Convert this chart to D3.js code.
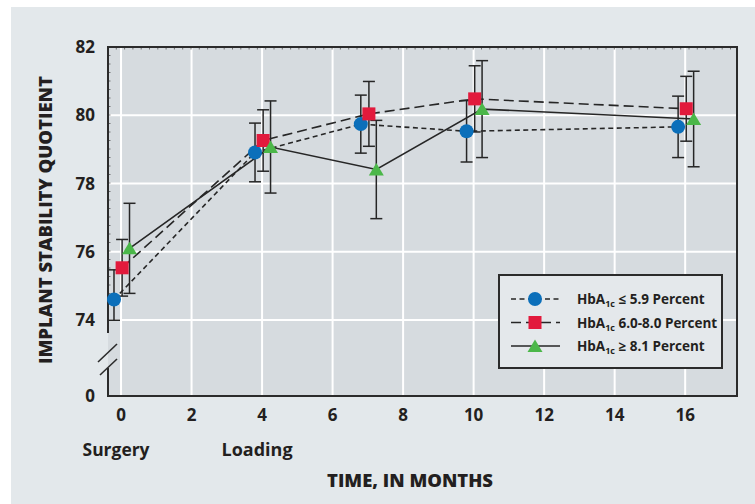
<!DOCTYPE html>
<html>
<head>
<meta charset="utf-8">
<script src="https://cdn.jsdelivr.net/npm/d3@7"></script>
<style>
  body { margin: 0; background: #fff; }
  text { font-family: "Open Sans", "DejaVu Sans", sans-serif; fill: #231f20; }
</style>
</head>
<body>
<svg width="755" height="504"></svg>
<script>
// months after surgery, and the ISQ means / SDs for each HbA1c group
var months = [0, 4, 7, 10, 16];
var xTicks = [0, 2, 4, 6, 8, 10, 12, 14, 16];
var yTicks = [0, 74, 76, 78, 80, 82];
var yGrid = [74, 76, 78, 80];
var milestoneLabels = ["Surgery", "Loading"];
var milestoneMonths = [0, 4];

var groupLabels = ["\u2264 5.9 Percent", "6.0-8.0 Percent", "\u2265 8.1 Percent"];
var lowMean = [74.6, 78.91, 79.74, 79.53, 79.66];
var lowSD = [0.87, 0.86, 0.85, 0.9, 0.9];
var midMean = [75.53, 79.26, 80.04, 80.48, 80.19];
var midSD = [0.83, 0.9, 0.95, 0.97, 0.95];
var highMean = [76.1, 79.07, 78.41, 80.18, 79.89];
var highSD = [1.32, 1.35, 1.44, 1.42, 1.4];

var svg = d3.select("svg"),
    plotLeft = 108, plotTop = 47,
    width = 629, height = 349;

// page panel
svg.append("rect").attr("x", 11).attr("y", 7).attr("width", 744).attr("height", 497).attr("fill", "#e3e8eb");

var g = svg.append("g").attr("transform", "translate(" + plotLeft + "," + plotTop + ")");

var x = d3.scaleLinear().domain([-0.37, 17.47]).range([0, width]);
// broken axis: 0 sits at the bottom, 74..82 is the real range
var y = d3.scaleLinear().domain([0, 74, 82]).range([height, height - 76, 0]);

var series = [
  { mean: lowMean, sd: lowSD, shift: -0.2, color: "#0b6fba", shape: "circle", dash: "5,3.5" },
  { mean: midMean, sd: midSD, shift: 0.03, color: "#e21a3c", shape: "square", dash: "10,5" },
  { mean: highMean, sd: highSD, shift: 0.24, color: "#4bb749", shape: "triangle", dash: null }
];
series.forEach(function(s, i) {
  s.label = groupLabels[i];
  s.points = months.map(function(m, j) { return { month: m, mean: s.mean[j], sd: s.sd[j] }; });
});

g.append("rect").attr("width", width).attr("height", height).attr("fill", "#d6dbdf");

// grid
g.append("g").selectAll("line")
    .data(xTicks)
  .enter().append("line")
    .attr("x1", function(d) { return x(d); })
    .attr("x2", function(d) { return x(d); })
    .attr("y1", 0).attr("y2", height)
    .attr("stroke", "#fff").attr("stroke-width", 2);

g.append("g").selectAll("line")
    .data(yGrid)
  .enter().append("line")
    .attr("x1", 0).attr("x2", width)
    .attr("y1", function(d) { return y(d); })
    .attr("y2", function(d) { return y(d); })
    .attr("stroke", "#fff").attr("stroke-width", 2);

// tiny ruler ticks along the top and left frame
g.append("g").selectAll("line")
    .data(d3.range(0, width, 8.3))
  .enter().append("line")
    .attr("x1", function(d) { return d; }).attr("x2", function(d) { return d; })
    .attr("y1", 0).attr("y2", 2.5)
    .attr("stroke", "#555").attr("stroke-width", 0.8);
g.append("g").selectAll("line")
    .data(d3.range(0, y(74) - 10, 8.5))
  .enter().append("line")
    .attr("x1", 0).attr("x2", 2.5)
    .attr("y1", function(d) { return d; }).attr("y2", function(d) { return d; })
    .attr("stroke", "#555").attr("stroke-width", 0.8);

// frame: top, right, bottom, and the broken left side
var frame = "#2b2b2b";
g.append("path")
  .attr("d", "M0," + (y(74) + 13) + " L0,0 L" + width + ",0 L" + width + "," + height + " L0," + height + " L0," + (height - 28))
  .attr("fill", "none").attr("stroke", frame).attr("stroke-width", 2);

var by = y(74);
g.append("line").attr("x1", -10).attr("y1", by + 42).attr("x2", 9).attr("y2", by + 24)
  .attr("stroke", frame).attr("stroke-width", 1.6);
g.append("line").attr("x1", -8).attr("y1", by + 55).attr("x2", 9).attr("y2", by + 39)
  .attr("stroke", frame).attr("stroke-width", 1.6);

// axis labels
g.append("g").selectAll("text")
    .data(yTicks)
  .enter().append("text")
    .attr("x", -13)
    .attr("y", function(d) { return y(d) + 6; })
    .attr("text-anchor", "end")
    .attr("font-size", "17px").attr("font-weight", 700)
    .text(function(d) { return d; });

g.append("g").selectAll("text")
    .data(xTicks)
  .enter().append("text")
    .attr("x", function(d) { return x(d); })
    .attr("y", height + 25)
    .attr("text-anchor", "middle")
    .attr("font-size", "17px").attr("font-weight", 700)
    .text(function(d) { return d; });

g.append("g").selectAll("text")
    .data(milestoneLabels)
  .enter().append("text")
    .attr("x", function(d, i) { return x(milestoneMonths[i]) - 5; })
    .attr("y", height + 60)
    .attr("text-anchor", "middle")
    .attr("font-size", "18px").attr("font-weight", 700)
    .attr("textLength", function(d) { return d === "Surgery" ? 67 : 71; })
    .attr("lengthAdjust", "spacingAndGlyphs")
    .text(function(d) { return d; });

svg.append("text")
  .attr("x", 410).attr("y", 487)
  .attr("text-anchor", "middle")
  .attr("font-size", "18px").attr("font-weight", 800)
  .attr("textLength", 166).attr("lengthAdjust", "spacingAndGlyphs")
  .text("TIME, IN MONTHS");

svg.append("text")
  .attr("transform", "translate(52,220) rotate(-90)")
  .attr("text-anchor", "middle")
  .attr("font-size", "18px").attr("font-weight", 800)
  .attr("textLength", 288).attr("lengthAdjust", "spacingAndGlyphs")
  .text("IMPLANT STABILITY QUOTIENT");

// markers
function drawMarker(sel, shape, color) {
  if (shape === "circle") {
    sel.append("circle").attr("r", 7).attr("fill", color);
  } else if (shape === "square") {
    sel.append("rect").attr("x", -6.5).attr("y", -6.5).attr("width", 13).attr("height", 13).attr("fill", color);
  } else {
    sel.append("path").attr("d", "M0,-6.5 L7.5,6 L-7.5,6 Z").attr("fill", color);
  }
}

// error bars
series.forEach(function(s) {
  var eb = g.append("g").selectAll("g")
      .data(s.points)
    .enter().append("g")
      .attr("transform", function(d) { return "translate(" + x(d.month + s.shift) + ",0)"; })
      .attr("stroke", "#262626").attr("stroke-width", 1.5);
  eb.append("line")
    .attr("y1", function(d) { return y(d.mean - d.sd); })
    .attr("y2", function(d) { return y(d.mean + d.sd); });
  eb.append("line").attr("x1", -6).attr("x2", 6)
    .attr("y1", function(d) { return y(d.mean - d.sd); })
    .attr("y2", function(d) { return y(d.mean - d.sd); });
  eb.append("line").attr("x1", -6).attr("x2", 6)
    .attr("y1", function(d) { return y(d.mean + d.sd); })
    .attr("y2", function(d) { return y(d.mean + d.sd); });
});

// connecting lines
series.forEach(function(s) {
  var line = d3.line()
    .x(function(d) { return x(d.month + s.shift); })
    .y(function(d) { return y(d.mean); });
  g.append("path")
    .datum(s.points)
    .attr("d", line)
    .attr("fill", "none")
    .attr("stroke", "#262626").attr("stroke-width", 1.6)
    .attr("stroke-dasharray", s.dash);
});

series.forEach(function(s) {
  g.append("g").selectAll("g")
      .data(s.points)
    .enter().append("g")
      .attr("transform", function(d) { return "translate(" + x(d.month + s.shift) + "," + y(d.mean) + ")"; })
      .each(function() { drawMarker(d3.select(this), s.shape, s.color); });
});

// legend
var legend = svg.append("g").attr("transform", "translate(499,275)");
legend.append("rect").attr("width", 223).attr("height", 93)
  .attr("fill", "#e4e8eb").attr("stroke", frame).attr("stroke-width", 2);

var rows = legend.selectAll("g.row")
    .data(series)
  .enter().append("g")
    .attr("class", "row")
    .attr("transform", function(d, i) { return "translate(0," + (24 + i * 23.5) + ")"; });

rows.append("line")
  .attr("x1", 12).attr("x2", 61)
  .attr("stroke", "#262626").attr("stroke-width", 1.6)
  .attr("stroke-dasharray", function(d) { return d.dash; });
rows.each(function(d) {
  drawMarker(d3.select(this).append("g").attr("transform", "translate(36,0)"), d.shape, d.color);
});

var lt = rows.append("text")
  .attr("x", 78).attr("y", 5)
  .attr("font-size", "13.5px").attr("font-weight", 700);
lt.append("tspan").text("HbA");
lt.append("tspan").attr("font-size", "9px").attr("dy", 3).text("1c");
lt.append("tspan").attr("dy", -3).text(function(d) { return " " + d.label; });
</script>
</body>
</html>
